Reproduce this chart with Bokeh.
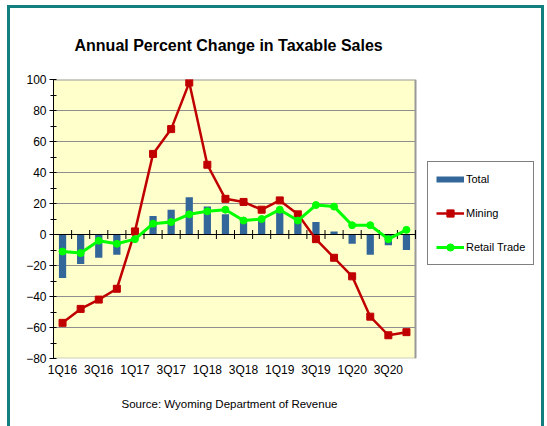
import math
from bokeh.plotting import figure
from bokeh.models import Range1d, FixedTicker, Legend, LegendItem, Title, ColumnDataSource
from bokeh.embed import file_html
from bokeh.resources import INLINE

quarters = ["1Q16", "2Q16", "3Q16", "4Q16", "1Q17", "2Q17", "3Q17", "4Q17",
            "1Q18", "2Q18", "3Q18", "4Q18", "1Q19", "2Q19", "3Q19", "4Q19",
            "1Q20", "2Q20", "3Q20", "4Q20"]
total = [-28, -19, -15, -13, 0.5, 12, 16, 24, 18, 13, 9, 9, 14, 8, 8, 2, -6, -13, -7, -10]
mining = [-57, -48, -42, -35, 2, 52, 68, 98, 45, 23, 21, 16, 22, 13, -3, -15, -27, -53, -65, -63]
retail = [-11, -12, -4, -6, -3, 7, 8, 13, 15, 16, 9, 10, 16, 9, 19, 18, 6, 6, -3, 3]
y_ticks = list(range(-80, 101, 20))
y_minor = list(range(-80, 101, 10))

FONT = "Liberation Sans"
TEAL = "#13807f"
YELLOW = "#FFFFCC"
GRID = "#8f8f8f"

# layout (canvas pixels)
W, H = 537, 421
F_LEFT, F_TOP = 46, 74
PLOT_RIGHT, PLOT_BOTTOM = 408, 353
F_RIGHT = 529

n = len(quarters)
x = list(range(1, n + 1))
x_lo, x_hi = 0.5, n + 0.5
y_lo, y_hi = y_ticks[0], y_ticks[-1]
px_per_unit = (PLOT_RIGHT - F_LEFT) / (x_hi - x_lo)
x_end = x_hi + (F_RIGHT - PLOT_RIGHT) / px_per_unit

src = ColumnDataSource(dict(x=x, total=total, mining=mining, retail=retail))

p = figure(width=W, height=H, output_backend="svg", toolbar_location=None,
           x_range=Range1d(x_lo, x_end), y_range=Range1d(y_lo, y_hi),
           min_border_left=F_LEFT, min_border_right=W - F_RIGHT,
           min_border_top=F_TOP, min_border_bottom=H - PLOT_BOTTOM,
           title="Annual Percent Change in Taxable Sales")
p.styles = {"margin": "5px 0 0 7px",
            "box-shadow": f"inset 3px 0 0 0 {TEAL}, inset -3px 0 0 0 {TEAL}, inset 0 3px 0 0 {TEAL}"}

p.title.align = "left"
p.title.offset = 21
p.title.text_font = FONT
p.title.text_font_size = "16px"
p.title.text_font_style = "bold"
p.title.text_color = "black"
p.title.standoff = 51

p.background_fill_alpha = 0
p.border_fill_alpha = 0
p.outline_line_color = None

# y axis
p.yaxis.ticker = FixedTicker(ticks=y_ticks, minor_ticks=y_minor)
p.yaxis.axis_line_color = "black"
p.yaxis.major_tick_line_color = "black"
p.yaxis.minor_tick_line_color = "black"
p.yaxis.major_tick_out = 4
p.yaxis.major_tick_in = 0
p.yaxis.minor_tick_out = 3
p.yaxis.minor_tick_in = 3
p.yaxis.major_label_text_font = FONT
p.yaxis.major_label_text_font_size = "12px"
p.yaxis.major_label_text_color = "black"
p.yaxis.major_label_standoff = 3

# x axis (labels only, every other quarter)
label_pos = x[::2]
p.xaxis.ticker = FixedTicker(ticks=label_pos, minor_ticks=[])
p.xaxis.major_label_overrides = {i: quarters[i - 1] for i in label_pos}
p.xaxis.axis_line_color = None
p.xaxis.major_tick_line_color = None
p.xaxis.minor_tick_line_color = None
p.xaxis.major_tick_out = 0
p.xaxis.major_tick_in = 0
p.xaxis.minor_tick_out = 0
p.xaxis.major_label_text_font = FONT
p.xaxis.major_label_text_font_size = "12px"
p.xaxis.major_label_text_color = "black"
p.xaxis.major_label_standoff = 4

p.xgrid.grid_line_color = None
p.ygrid.grid_line_color = None

# plot area background, gridlines and border
p.quad(left=[x_lo], right=[x_hi], bottom=[y_lo], top=[y_hi], fill_color=YELLOW, line_color=None)
inner = [t for t in y_ticks if y_lo < t < y_hi]
p.segment(x0=[x_lo] * len(inner), y0=inner, x1=[x_hi] * len(inner), y1=inner,
          line_color=GRID, line_width=1)
p.segment(x0=[x_lo], y0=[y_lo], x1=[x_hi], y1=[y_lo], line_color="#d0d0c0", line_width=2)
p.segment(x0=[x_lo, x_hi], y0=[y_hi, y_lo], x1=[x_hi, x_hi], y1=[y_hi, y_hi],
          line_color="#999999", line_width=2)

bars = p.vbar(x="x", top="total", bottom=0, width=0.4, source=src,
              fill_color="#336699", line_color=None)

# zero (category) axis with boundary ticks
p.segment(x0=[x_lo], y0=[0], x1=[x_hi], y1=[0], line_color="black", line_width=1)
bounds = [i + 0.5 for i in range(0, n + 1)]
p.scatter(x=bounds, y=[0] * len(bounds), marker="dash", angle=math.pi / 2, size=9,
          line_color="black", line_width=1)

ml = p.line(x="x", y="mining", source=src, line_color="#C00000", line_width=2.5)
ms = p.scatter(x="x", y="mining", source=src, marker="square", size=7,
               fill_color="#C00000", line_color="#C00000")
rl = p.line(x="x", y="retail", source=src, line_color="#00FF00", line_width=3)
rs = p.scatter(x="x", y="retail", source=src, marker="circle", size=7,
               fill_color="#00FF00", line_color="#00FF00")

# legend proxy for the bar series (a thick short bar, as in the reference)
proxy = p.line(x=[float("nan")], y=[float("nan")], line_color="#336699", line_width=6)

legend = Legend(items=[LegendItem(label="Total", renderers=[proxy]),
                       LegendItem(label="Mining", renderers=[ml, ms]),
                       LegendItem(label="Retail Trade", renderers=[rl, rs])],
                location=(374, 93))
legend.border_line_color = "black"
legend.border_line_width = 1
legend.background_fill_color = "white"
legend.background_fill_alpha = 1
legend.label_text_font = FONT
legend.label_text_font_size = "11px"
legend.label_text_color = "black"
legend.glyph_width = 28
legend.glyph_height = 18
legend.label_height = 18
legend.label_standoff = 2
legend.spacing = 16
legend.padding = 8
legend.margin = 0
p.add_layout(legend, "center")

p.add_layout(Title(text="Source: Wyoming Department of Revenue", align="left", offset=68,
                   text_font=FONT, text_font_size="11.5px", text_font_style="normal",
                   text_color="black", standoff=32), "below")

open("out.html", "w").write(file_html(p, INLINE))
